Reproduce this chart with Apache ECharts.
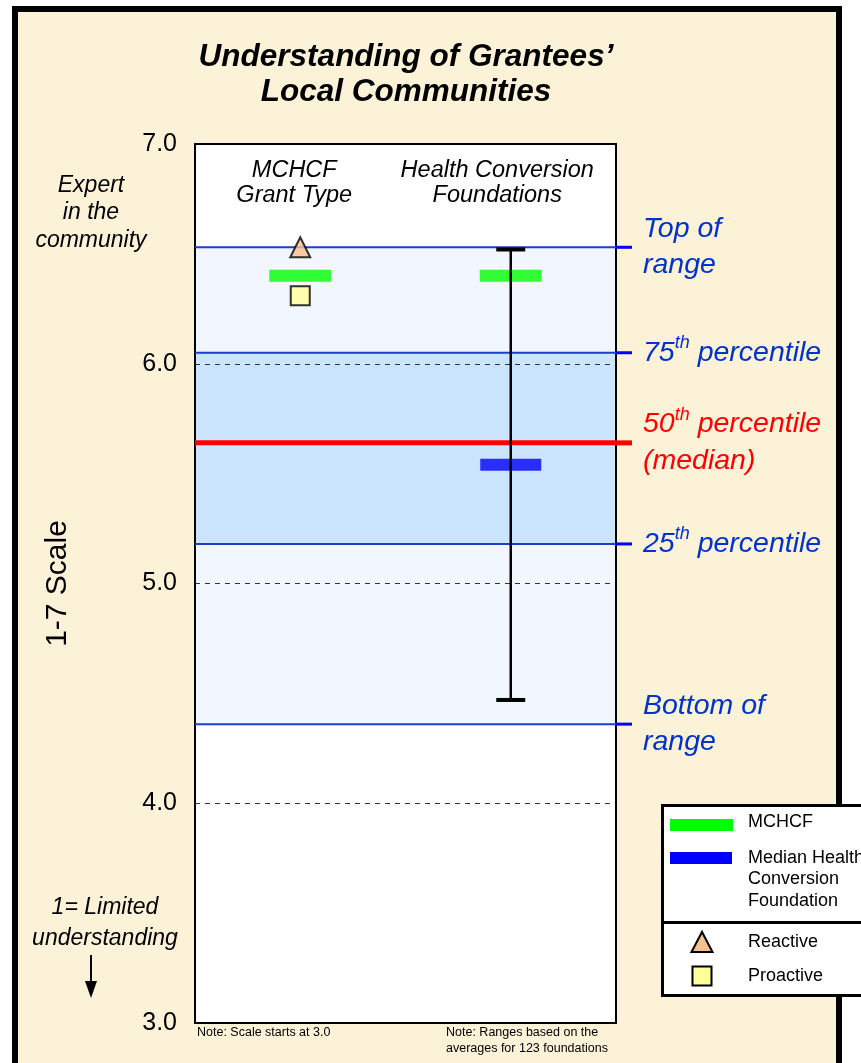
<!DOCTYPE html>
<html>
<head>
<meta charset="utf-8">
<script src="https://cdn.jsdelivr.net/npm/echarts@6/dist/echarts.min.js"></script>
<style>
  html, body { margin: 0; padding: 0; background: #ffffff; }
  #frame {
    position: absolute; left: 12px; top: 6px; width: 830px; height: 1100px;
    box-sizing: border-box; border: 6px solid #000; background: #FCF2D8;
  }
  #chart { position: absolute; left: 0; top: 0; width: 861px; height: 1063px; }
</style>
</head>
<body>
<div id="frame"></div>
<div id="chart"></div>
<script>
// Column headings (x categories)
const categories = ['MCHCF\nGrant Type', 'Health Conversion\nFoundations'];
// MCHCF score shown for each column (green bars)
const mchcfScores = [6.40, 6.40];
// Median of the health conversion foundations (blue bar)
const medianFoundation = [null, 5.54];
// MCHCF grant types
const reactiveScores = [6.53, null];
const proactiveScores = [6.31, null];
// Spread of foundation averages (whisker)
const foundationLow = [null, 4.47];
const foundationHigh = [null, 6.52];
// Distribution reference values: top, 75th, 50th, 25th, bottom
const rangeValues = [6.53, 6.05, 5.64, 5.18, 4.36];
const rangeLabels = [
  'Top of\nrange',
  '{n|75}{s|th}{n| percentile}',
  '{n|50}{s|th}{n| percentile}\n{n|(median)}',
  '{n|25}{s|th}{n| percentile}',
  'Bottom of\nrange'
];
// Value axis
const axisMin = 3, axisMax = 7, axisStep = 1;

const FONT = '"Liberation Sans", Arial, sans-serif';
const C = {
  green: '#00ff00', blue: '#0000ff', lineBlue: '#1a3fcc', labelBlue: '#0033cc',
  red: '#ff0000', bandOuter: '#f1f6ff', bandInner: '#cce5ff',
  reactive: '#f9c08f', proactive: '#ffff99'
};

const chart = echarts.init(document.getElementById('chart'), null, { renderer: 'canvas' });

const pairs = arr => arr.map((v, i) => (v == null ? null : [i, v])).filter(Boolean);

const headStyle = pad => ({
  fontFamily: FONT, fontSize: 23.5, fontStyle: 'italic', color: '#000', lineHeight: 25, padding: [0, pad, 0, 0]
});

const option = {
  animation: false,
  backgroundColor: 'transparent',
  textStyle: { fontFamily: FONT },
  title: {
    text: 'Understanding of Grantees\u2019\nLocal Communities',
    left: 401, top: 35, textAlign: 'center',
    textStyle: { fontFamily: FONT, fontSize: 31.5, fontWeight: 'bold', fontStyle: 'italic', color: '#000', lineHeight: 35 }
  },
  grid: { left: 195, top: 144, width: 421, height: 879, show: true, backgroundColor: '#ffffff', borderWidth: 0 },
  xAxis: [
    {
      type: 'category', data: categories, position: 'top', boundaryGap: true, z: 6,
      axisLine: { show: true, lineStyle: { color: '#000', width: 2 } },
      axisTick: { show: false },
      axisLabel: {
        interval: 0, inside: true, margin: 14, lineHeight: 25,
        formatter: (v, i) => v.split('\n').map(s => `{${i === 0 ? 'a' : 'b'}|${s}}`).join('\n'),
        rich: { a: headStyle(12), b: headStyle(27) }
      },
      splitLine: { show: false }
    },
    {
      type: 'category', data: categories, position: 'bottom', boundaryGap: true, z: 6,
      axisLine: { show: true, lineStyle: { color: '#000', width: 2 } },
      axisTick: { show: false }, axisLabel: { show: false }, splitLine: { show: false }
    }
  ],
  yAxis: [
    {
      type: 'value', min: axisMin, max: axisMax, interval: axisStep, position: 'left', z: 2,
      name: '1-7 Scale', nameLocation: 'middle', nameGap: 122, nameRotate: 90,
      nameTextStyle: { fontSize: 30, color: '#000', fontFamily: FONT },
      axisLine: { show: true, lineStyle: { color: '#000', width: 2 } },
      axisTick: { show: false },
      axisLabel: { formatter: v => v.toFixed(1), fontSize: 25, color: '#000', margin: 18, fontFamily: FONT },
      splitLine: { show: true, showMinLine: false, showMaxLine: false, lineStyle: { type: [5, 5], color: '#333', width: 1 } }
    },
    {
      type: 'value', min: axisMin, max: axisMax, interval: axisStep, position: 'right', z: 2,
      axisLine: { show: true, lineStyle: { color: '#000', width: 2 } },
      axisTick: { show: false }, axisLabel: { show: false }, splitLine: { show: false }
    }
  ],
  series: [
    {
      // shaded bands: full range and interquartile range
      type: 'custom', name: 'bands', z: 1, silent: true, clip: false,
      data: [[0, rangeValues[4], rangeValues[0], 0], [0, rangeValues[3], rangeValues[1], 1]],
      renderItem(params, api) {
        const cs = params.coordSys;
        const yLo = api.coord([0, api.value(1)])[1];
        const yHi = api.coord([0, api.value(2)])[1];
        return {
          type: 'rect',
          shape: { x: cs.x, y: yHi, width: cs.width, height: yLo - yHi },
          style: { fill: api.value(3) === 0 ? C.bandOuter : C.bandInner }
        };
      }
    },
    {
      // reference lines with their labels to the right of the plot
      type: 'custom', name: 'percentiles', z: 3, silent: true, clip: false,
      data: rangeValues.map((v, i) => [0, v, i]),
      renderItem(params, api) {
        const cs = params.coordSys;
        const y = api.coord([0, api.value(1)])[1];
        const i = api.value(2);
        const median = i === 2;
        const lineCol = median ? C.red : C.lineBlue;
        const extCol = median ? C.red : C.blue;
        const txtCol = median ? C.red : C.labelBlue;
        const right = cs.x + cs.width;
        return {
          type: 'group',
          children: [
            { type: 'line', shape: { x1: cs.x, y1: y, x2: right, y2: y }, style: { stroke: lineCol, lineWidth: median ? 5 : 2 } },
            { type: 'line', shape: { x1: right, y1: y, x2: right + 16, y2: y }, style: { stroke: extCol, lineWidth: median ? 5 : 3 } },
            {
              type: 'text', x: right + 27, y: y,
              style: {
                text: rangeLabels[i], fill: txtCol, align: 'left', verticalAlign: 'middle',
                fontFamily: FONT, fontSize: 28.5, fontStyle: 'italic', lineHeight: 36,
                rich: {
                  n: { fontFamily: FONT, fontSize: 28.5, fontStyle: 'italic', lineHeight: 37, fill: txtCol },
                  s: { fontFamily: FONT, fontSize: 18, fontStyle: 'italic', lineHeight: 34, verticalAlign: 'top', fill: txtCol }
                }
              }
            }
          ]
        };
      }
    },
    {
      name: 'MCHCF', type: 'scatter', z: 4, silent: true,
      data: pairs(mchcfScores), symbol: 'rect', symbolSize: [62, 12],
      itemStyle: { color: C.green }
    },
    {
      name: 'Median Health Conversion Foundation', type: 'scatter', z: 4, silent: true,
      data: pairs(medianFoundation), symbol: 'rect', symbolSize: [61, 12],
      itemStyle: { color: C.blue }
    },
    {
      name: 'Reactive', type: 'scatter', z: 4, silent: true,
      data: pairs(reactiveScores), symbol: 'triangle', symbolSize: [20, 20],
      itemStyle: { color: C.reactive, borderColor: '#000', borderWidth: 2 }
    },
    {
      name: 'Proactive', type: 'scatter', z: 4, silent: true,
      data: pairs(proactiveScores), symbol: 'rect', symbolSize: [19, 19],
      itemStyle: { color: C.proactive, borderColor: '#000', borderWidth: 2 }
    },
    {
      // whisker spanning the foundation averages
      type: 'custom', name: 'foundation range', z: 5, silent: true, clip: false,
      data: foundationLow.map((lo, i) => (lo == null ? null : [i, lo, foundationHigh[i]])).filter(Boolean),
      renderItem(params, api) {
        const lo = api.coord([api.value(0), api.value(1)]);
        const hi = api.coord([api.value(0), api.value(2)]);
        const half = 14.5;
        return {
          type: 'group',
          children: [
            { type: 'line', shape: { x1: lo[0], y1: lo[1], x2: hi[0], y2: hi[1] }, style: { stroke: '#000', lineWidth: 2.5 } },
            { type: 'line', shape: { x1: hi[0] - half, y1: hi[1], x2: hi[0] + half, y2: hi[1] }, style: { stroke: '#000', lineWidth: 4 } },
            { type: 'line', shape: { x1: lo[0] - half, y1: lo[1], x2: lo[0] + half, y2: lo[1] }, style: { stroke: '#000', lineWidth: 4 } }
          ]
        };
      }
    }
  ],
  graphic: [
    // scale end descriptions
    {
      type: 'text', x: 91, y: 213, z: 10,
      style: { text: 'Expert\nin the\ncommunity', align: 'center', verticalAlign: 'middle', fontFamily: FONT, fontSize: 23, fontStyle: 'italic', lineHeight: 27.5, fill: '#000' }
    },
    {
      type: 'text', x: 105, y: 923, z: 10,
      style: { text: '1= Limited\nunderstanding', align: 'center', verticalAlign: 'middle', fontFamily: FONT, fontSize: 23, fontStyle: 'italic', lineHeight: 31, fill: '#000' }
    },
    { type: 'line', z: 10, shape: { x1: 91, y1: 955, x2: 91, y2: 984 }, style: { stroke: '#000', lineWidth: 2 } },
    { type: 'polygon', z: 10, shape: { points: [[85, 981], [97, 981], [91, 998]] }, style: { fill: '#000' } },
    // footnotes
    {
      type: 'text', x: 197, y: 1033, z: 10,
      style: { text: 'Note: Scale starts at 3.0', verticalAlign: 'middle', fontFamily: FONT, fontSize: 12.5, fill: '#000' }
    },
    {
      type: 'text', x: 446, y: 1025, z: 10,
      style: { text: 'Note: Ranges based on the\naverages for 123 foundations', verticalAlign: 'top', fontFamily: FONT, fontSize: 12.5, lineHeight: 16, fill: '#000' }
    },
    // legend
    {
      type: 'group', z: 100,
      children: [
        { type: 'rect', z: 100, shape: { x: 662.5, y: 805.5, width: 240, height: 190 }, style: { fill: '#fff', stroke: '#000', lineWidth: 3 } },
        { type: 'line', z: 101, shape: { x1: 662, y1: 922.5, x2: 870, y2: 922.5 }, style: { stroke: '#000', lineWidth: 3 } },
        { type: 'rect', z: 101, shape: { x: 670, y: 819, width: 63, height: 12 }, style: { fill: C.green } },
        { type: 'text', z: 101, x: 748, y: 822, style: { text: 'MCHCF', verticalAlign: 'middle', fontFamily: FONT, fontSize: 18, fill: '#000' } },
        { type: 'rect', z: 101, shape: { x: 670, y: 852, width: 62, height: 12 }, style: { fill: C.blue } },
        { type: 'text', z: 101, x: 748, y: 847, style: { text: 'Median Health\nConversion\nFoundation', verticalAlign: 'top', fontFamily: FONT, fontSize: 18, lineHeight: 21.5, fill: '#000' } },
        { type: 'polygon', z: 101, shape: { points: [[691.5, 952], [702, 932], [712.5, 952]] }, style: { fill: C.reactive, stroke: '#000', lineWidth: 2 } },
        { type: 'text', z: 101, x: 748, y: 942, style: { text: 'Reactive', verticalAlign: 'middle', fontFamily: FONT, fontSize: 18, fill: '#000' } },
        { type: 'rect', z: 101, shape: { x: 692.5, y: 966.5, width: 19, height: 19 }, style: { fill: C.proactive, stroke: '#000', lineWidth: 2 } },
        { type: 'text', z: 101, x: 748, y: 976, style: { text: 'Proactive', verticalAlign: 'middle', fontFamily: FONT, fontSize: 18, fill: '#000' } }
      ]
    }
  ]
};

chart.setOption(option);
</script>
</body>
</html>
